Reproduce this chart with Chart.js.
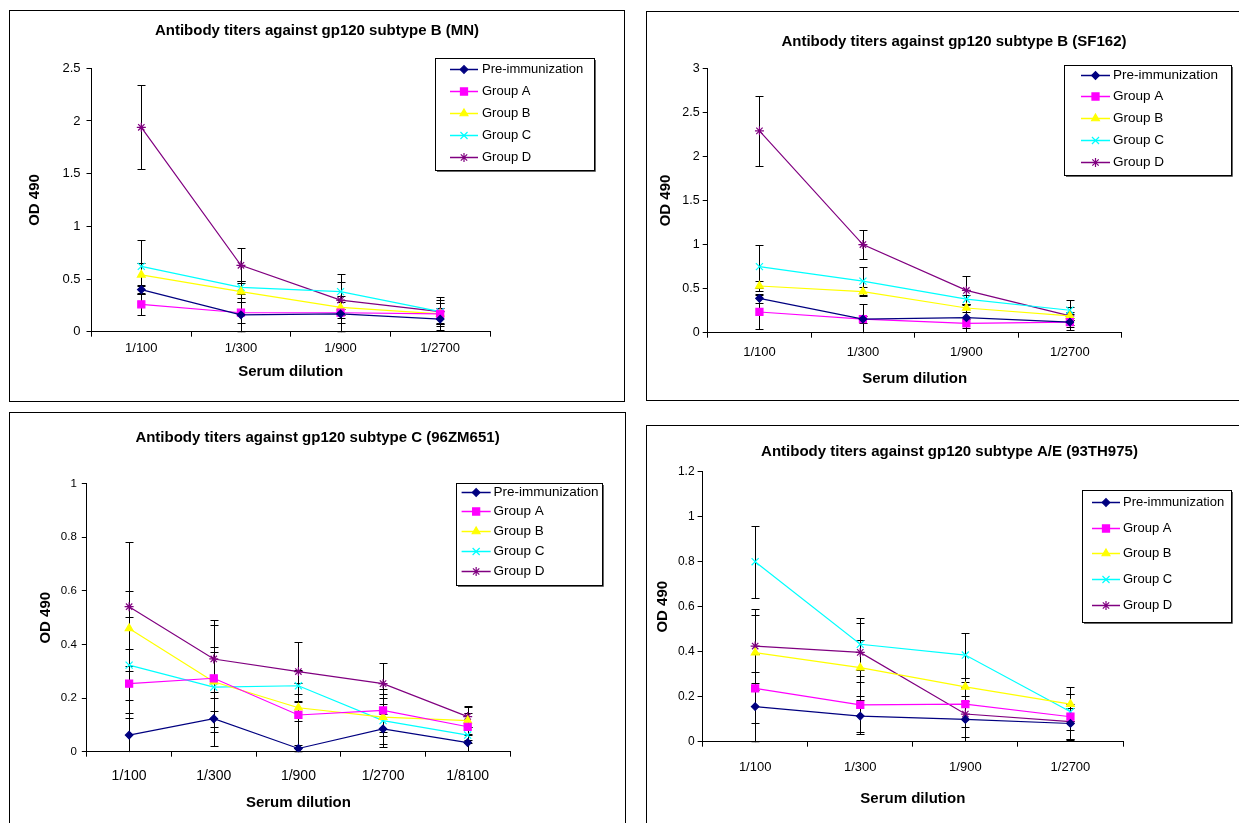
<!DOCTYPE html>
<html>
<head>
<meta charset="utf-8">
<title>Antibody titers against gp120</title>
<script src="https://cdn.jsdelivr.net/npm/chart.js"></script>
<style>
  html, body { margin: 0; padding: 0; background: #fff; }
  body { width: 1239px; height: 823px; overflow: hidden; position: relative; }
  .panel { position: absolute; border: 1px solid #000; box-sizing: border-box; background: #fff; }
  .panel canvas { display: block; }
</style>
</head>
<body>
<div class="panel" style="left:9px;top:10px;width:616px;height:392px"><canvas id="chartMN"></canvas></div>
<div class="panel" style="left:646px;top:11px;width:616px;height:390px"><canvas id="chartSF162"></canvas></div>
<div class="panel" style="left:9px;top:412px;width:617px;height:420px"><canvas id="chartZM651"></canvas></div>
<div class="panel" style="left:646px;top:425px;width:607px;height:410px"><canvas id="chartTH975"></canvas></div>

<script>
// --- data ---
const groupNames = ['Pre-immunization', 'Group A', 'Group B', 'Group C', 'Group D'];
const dilutions4 = ['1/100', '1/300', '1/900', '1/2700'];
const dilutions5 = ['1/100', '1/300', '1/900', '1/2700', '1/8100'];

// subtype B (MN)
const mnTicks = [0, 0.5, 1, 1.5, 2, 2.5];
const mnMeans = [
    [0.40, 0.16, 0.17, 0.12],
    [0.26, 0.18, 0.18, 0.17],
    [0.54, 0.38, 0.23, 0.17],
    [0.62, 0.42, 0.38, 0.19],
    [1.94, 0.63, 0.30, 0.19]
];
const mnErrors = [
    [0.04, 0.16, 0.17, 0.105],
    [0.10, 0.10, 0.10, 0.10],
    [0.11, 0.10, 0.07, 0.10],
    [0.255, 0.06, 0.165, 0.11],
    [0.40, 0.165, 0.17, 0.14]
];

// subtype B (SF162)
const sfTicks = [0, 0.5, 1, 1.5, 2, 2.5, 3];
const sfMeans = [
    [0.39, 0.155, 0.17, 0.12],
    [0.235, 0.155, 0.105, 0.12],
    [0.53, 0.465, 0.28, 0.19],
    [0.75, 0.585, 0.38, 0.255],
    [2.29, 1.00, 0.48, 0.19]
];
const sfErrors = [
    [0.05, 0.165, 0.16, 0.09],
    [0.195, 0.04, 0.05, 0.05],
    [0.06, 0.05, 0.05, 0.05],
    [0.24, 0.16, 0.05, 0.115],
    [0.40, 0.16, 0.165, 0.10]
];

// subtype C (96ZM651)
const zmTicks = [0, 0.2, 0.4, 0.6, 0.8, 1];
const zmMeans = [
    [0.062, 0.123, 0.012, 0.085, 0.034],
    [0.254, 0.274, 0.137, 0.154, 0.093],
    [0.46, 0.261, 0.164, 0.129, 0.116],
    [0.323, 0.241, 0.246, 0.116, 0.062],
    [0.541, 0.346, 0.299, 0.254, 0.131]
];
const zmErrors = [
    [0.13, 0.10, 0.012, 0.055, 0.03],
    [0.13, 0.20, 0.12, 0.08, 0.05],
    [0.14, 0.11, 0.05, 0.07, 0.05],
    [0.18, 0.15, 0.06, 0.10, 0.03],
    [0.24, 0.145, 0.11, 0.076, 0.04]
];

// subtype A/E (93TH975)
const thTicks = [0, 0.2, 0.4, 0.6, 0.8, 1, 1.2];
const thMeans = [
    [0.156, 0.114, 0.099, 0.081],
    [0.237, 0.164, 0.167, 0.111],
    [0.396, 0.329, 0.244, 0.167],
    [0.80, 0.433, 0.385, 0.133],
    [0.425, 0.397, 0.123, 0.089]
];
const thErrors = [
    [0.156, 0.07, 0.08, 0.07],
    [0.155, 0.13, 0.10, 0.10],
    [0.165, 0.125, 0.04, 0.077],
    [0.16, 0.115, 0.10, 0.08],
    [0.165, 0.13, 0.12, 0.08]
];

const FONT = "'Liberation Sans', Arial, sans-serif";
Chart.defaults.font.family = FONT;
Chart.defaults.color = '#000';

const seriesStyle = [
    { color: '#000080', point: 'rectRot', radius: 3.8 },
    { color: '#FF00FF', point: 'rect', radius: 5 },
    { color: '#FFFF00', point: 'triangle', radius: 4.5 },
    { color: '#00FFFF', point: 'crossRot', radius: 5 },
    { color: '#800080', point: 'star', radius: 4.5 }
];

// black error bars with caps, drawn through the chart scales
const errorBarPlugin = {
    id: 'errorBars',
    beforeDatasetsDraw(chart) {
        const { ctx, chartArea } = chart;
        const xs = chart.scales.x, ys = chart.scales.y;
        ctx.save();
        ctx.beginPath();
        ctx.rect(chartArea.left - 6, chartArea.top - 1, chartArea.width + 12, chartArea.height + 1.5);
        ctx.clip();
        ctx.strokeStyle = '#000';
        ctx.lineWidth = 1;
        chart.data.datasets.forEach(ds => {
            ds.data.forEach((v, j) => {
                const e = ds.errorBars[j];
                const px = Math.round(xs.getPixelForValue(j)) + 0.5;
                const top = Math.round(ys.getPixelForValue(v + e)) + 0.5;
                const bot = Math.round(ys.getPixelForValue(Math.max(v - e, 0))) + 0.5;
                ctx.beginPath();
                ctx.moveTo(px, top); ctx.lineTo(px, bot);
                ctx.moveTo(px - 4, top); ctx.lineTo(px + 4, top);
                if (v - e >= -0.005) { ctx.moveTo(px - 4, bot); ctx.lineTo(px + 4, bot); }
                ctx.stroke();
            });
        });
        ctx.restore();
    }
};

// boxed legend placed inside the panel like the original
const legendBoxPlugin = {
    id: 'panelLegend',
    afterDraw(chart, args, o) {
        const ctx = chart.ctx;
        ctx.save();
        ctx.fillStyle = '#fff';
        ctx.fillRect(o.x, o.y, o.w, o.h);
        ctx.strokeStyle = '#000';
        ctx.lineWidth = 1;
        ctx.strokeRect(Math.round(o.x) + 0.5, Math.round(o.y) + 0.5, Math.round(o.w), Math.round(o.h));
        ctx.strokeStyle = '#666';
        ctx.beginPath();
        ctx.moveTo(Math.round(o.x + o.w) + 1.5, Math.round(o.y) + 2);
        ctx.lineTo(Math.round(o.x + o.w) + 1.5, Math.round(o.y + o.h) + 1.5);
        ctx.lineTo(Math.round(o.x) + 2, Math.round(o.y + o.h) + 1.5);
        ctx.stroke();
        ctx.font = o.font + 'px ' + FONT;
        ctx.textBaseline = 'middle';
        chart.data.datasets.forEach((ds, i) => {
            const yy = Math.round(o.row0 + i * o.gap) + 0.5;
            ctx.strokeStyle = ds.borderColor;
            ctx.lineWidth = 1.5;
            ctx.beginPath();
            ctx.moveTo(o.x0, yy); ctx.lineTo(o.x1, yy);
            ctx.stroke();
            ctx.fillStyle = ds.pointBackgroundColor;
            ctx.strokeStyle = ds.pointBorderColor;
            ctx.lineWidth = 1.2;
            if (Chart.helpers && Chart.helpers.drawPoint) {
                Chart.helpers.drawPoint(ctx, { pointStyle: ds.pointStyle, radius: ds.pointRadius, rotation: 0, borderWidth: 1.2 }, (o.x0 + o.x1) / 2, yy);
            }
            ctx.fillStyle = '#000';
            ctx.fillText(ds.label, o.tx, yy);
        });
        ctx.restore();
    }
};

const panels = [
    { canvas: 'chartMN', title: 'Antibody titers against gp120 subtype B (MN)', labels: dilutions4,
      ticks: mnTicks, means: mnMeans, errors: mnErrors, w: 614, h: 390,
      area: { left: 81.5, top: 57.3, right: 480, bottom: 320.7 },
      titleTop: 10.5, xTitlePad: 20, yTitlePad: 16, xTickFont: 13, yTickFont: 13, xTickPad: 4, yTickPad: 6,
      legend: { x: 425, y: 47, w: 159, h: 112, row0: 58, gap: 22, x0: 440, x1: 468, tx: 472, font: 13 } },
    { canvas: 'chartSF162', title: 'Antibody titers against gp120 subtype B (SF162)', labels: dilutions4,
      ticks: sfTicks, means: sfMeans, errors: sfErrors, w: 614, h: 388,
      area: { left: 60.7, top: 56.3, right: 474.6, bottom: 320.7 },
      titleTop: 21, xTitlePad: 12, yTitlePad: 10, xTickFont: 13, yTickFont: 12.5, xTickPad: 7, yTickPad: 3,
      legend: { x: 417, y: 53, w: 167, h: 110, row0: 62.7, gap: 21.75, x0: 434, x1: 463, tx: 466, font: 13.5 } },
    { canvas: 'chartZM651', title: 'Antibody titers against gp120 subtype C (96ZM651)', labels: dilutions5,
      ticks: zmTicks, means: zmMeans, errors: zmErrors, w: 615, h: 418,
      area: { left: 76.8, top: 70.7, right: 500, bottom: 338.7 },
      titleTop: 15.5, xTitlePad: 19.5, yTitlePad: 27, xTickFont: 14, yTickFont: 11.5, xTickPad: 11, yTickPad: 5,
      legend: { x: 445.6, y: 70, w: 146, h: 102, row0: 78.7, gap: 19.7, x0: 451.6, x1: 480.7, tx: 483.5, font: 13.5 } },
    { canvas: 'chartTH975', title: 'Antibody titers against gp120 subtype A/E (93TH975)', labels: dilutions4,
      ticks: thTicks, means: thMeans, errors: thErrors, w: 605, h: 408,
      area: { left: 55.6, top: 45.7, right: 476, bottom: 315.7 },
      titleTop: 17, xTitlePad: 26.5, yTitlePad: 7, xTickFont: 13, yTickFont: 12, xTickPad: 13, yTickPad: 3,
      legend: { x: 434.7, y: 64, w: 149.3, h: 132, row0: 75.7, gap: 25.8, x0: 445, x1: 473, tx: 476, font: 13 } }
];

function buildChart(p) {
    const canvas = document.getElementById(p.canvas);
    canvas.width = p.w;
    canvas.height = p.h;

    const datasets = groupNames.map((name, i) => ({
        label: name,
        data: p.means[i],
        errorBars: p.errors[i],
        borderColor: seriesStyle[i].color,
        backgroundColor: seriesStyle[i].color,
        pointBorderColor: seriesStyle[i].color,
        pointBackgroundColor: seriesStyle[i].color,
        pointStyle: seriesStyle[i].point,
        pointRadius: seriesStyle[i].radius,
        pointBorderWidth: 1.2,
        borderWidth: 1.2,
        tension: 0,
        fill: false
    }));

    const yMax = p.ticks[p.ticks.length - 1];
    const yStep = p.ticks[1] - p.ticks[0];
    const titleLine = 15 * 1.2;

    new Chart(canvas, {
        type: 'line',
        data: { labels: p.labels, datasets: datasets },
        options: {
            responsive: false,
            animation: false,
            events: [],
            layout: { padding: 0 },
            plugins: {
                legend: { display: false },
                tooltip: { enabled: false },
                title: {
                    display: true,
                    text: p.title,
                    color: '#000',
                    font: { size: 15, weight: 'bold' },
                    padding: { top: p.titleTop, bottom: p.area.top - p.titleTop - titleLine }
                },
                panelLegend: p.legend
            },
            scales: {
                x: {
                    offset: true,
                    grid: { offset: true, drawOnChartArea: false, tickLength: 5, color: '#000' },
                    border: { color: '#000' },
                    ticks: { color: '#000', font: { size: p.xTickFont }, padding: p.xTickPad, maxRotation: 0, autoSkip: false },
                    title: {
                        display: true, text: 'Serum dilution', color: '#000',
                        font: { size: 15, weight: 'bold' },
                        padding: { top: 0, bottom: p.xTitlePad }
                    },
                    afterFit: s => { s.height = p.h - p.area.bottom; }
                },
                y: {
                    min: 0,
                    max: yMax,
                    grid: { drawOnChartArea: false, tickLength: 5, color: '#000' },
                    border: { color: '#000' },
                    ticks: {
                        stepSize: yStep, color: '#000', font: { size: p.yTickFont }, padding: p.yTickPad,
                        callback: v => String(Math.round(v * 100) / 100)
                    },
                    title: {
                        display: true, text: 'OD 490', color: '#000',
                        font: { size: 15, weight: 'bold' },
                        padding: { top: p.yTitlePad, bottom: 0 }
                    },
                    afterFit: s => { s.width = p.area.left; }
                },
                // empty right-hand box so the plot ends where the original does
                yPad: {
                    type: 'linear',
                    axis: 'y',
                    position: 'right',
                    display: true,
                    grid: { display: false },
                    border: { display: false },
                    ticks: { display: false },
                    afterFit: s => { s.width = p.w - p.area.right; }
                }
            }
        },
        plugins: [errorBarPlugin, legendBoxPlugin]
    });
}

panels.forEach(buildChart);
</script>
</body>
</html>
